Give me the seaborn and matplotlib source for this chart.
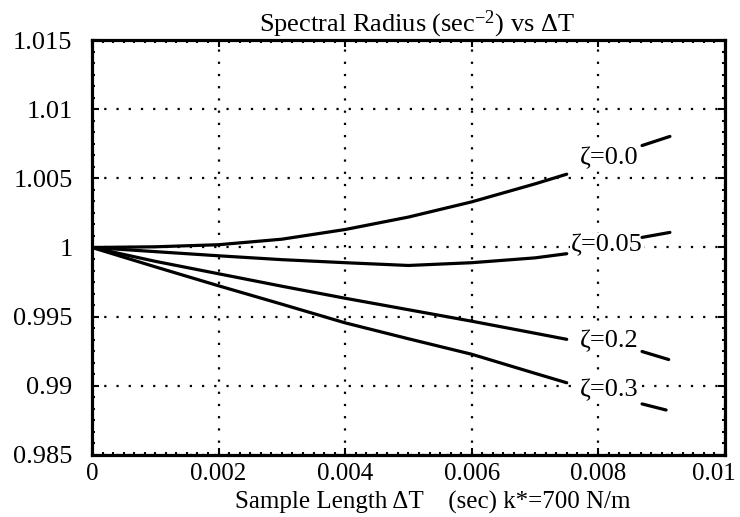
import matplotlib
matplotlib.use("Agg")
import matplotlib.pyplot as plt
import matplotlib.transforms as mtransforms
import numpy as np
import pandas as pd
import seaborn as sns
from matplotlib.ticker import AutoMinorLocator

# ---- data ----
dt = [0.0, 0.001, 0.002, 0.003, 0.004, 0.005, 0.006, 0.007, 0.0075]
rho_z000 = [1.0, 1.00005, 1.0002, 1.0006, 1.0013, 1.0022, 1.0033, 1.0046, 1.0053]
rho_z005 = [1.0, 0.9997, 0.9994, 0.99912, 0.9989, 0.9987, 0.9989, 0.99925, 0.99955]
rho_z020 = [1.0, 0.9990, 0.9981, 0.9972, 0.99633, 0.9955, 0.99467, 0.9938, 0.99336]
rho_z030 = [1.0, 0.9986, 0.99723, 0.9959, 0.99455, 0.9934, 0.99228, 0.9909, 0.99022]
zeta_names = ["ζ=0.0", "ζ=0.05", "ζ=0.2", "ζ=0.3"]

x_ticks = [0, 0.002, 0.004, 0.006, 0.008, 0.01]
x_tick_labels = ["0", "0.002", "0.004", "0.006", "0.008", "0.01"]
y_ticks = [0.985, 0.99, 0.995, 1.0, 1.005, 1.01, 1.015]
y_tick_labels = ["0.985", "0.99", "0.995", "1", "1.005", "1.01", "1.015"]

# curve labels and their short leader strokes (data coordinates)
label_x = [0.0077, 0.00757, 0.0077, 0.0077]
label_y = [1.0065, 1.00015, 0.99321, 0.98971]
lead_x0 = [0.00869, 0.00869, 0.00869, 0.00869]
lead_x1 = [0.00913, 0.00913, 0.00911, 0.00907]
lead_y0 = [1.00737, 1.00073, 0.99248, 0.98869]
lead_y1 = [1.00803, 1.00109, 0.99190, 0.98825]

series = [rho_z000, rho_z005, rho_z020, rho_z030]
df = pd.DataFrame({
    "dt": dt * len(series),
    "rho": sum(series, []),
    "zeta": sum([[z] * len(dt) for z in zeta_names], []),
})

sns.set_theme(style="ticks")
plt.rcParams["font.family"] = ["Liberation Serif", "DejaVu Serif"]
plt.rcParams["mathtext.fontset"] = "custom"
plt.rcParams["mathtext.rm"] = "Liberation Serif"
plt.rcParams["mathtext.it"] = "Liberation Serif:italic"
plt.rcParams["mathtext.bf"] = "Liberation Serif:bold"
plt.rcParams["text.color"] = "black"
plt.rcParams["axes.labelcolor"] = "black"
plt.rcParams["xtick.color"] = "black"
plt.rcParams["ytick.color"] = "black"
plt.rcParams["axes.titlecolor"] = "black"

FS = 19
FS_X = 18

fig = plt.figure(figsize=(7.4, 5.17), dpi=100)
ax = fig.add_axes([0.1243, 0.12, 0.8554, 0.8026])

sns.lineplot(data=df, x="dt", y="rho", hue="zeta", palette=["black"] * 4,
             estimator=None, linewidth=2.3, legend=False, ax=ax, zorder=3)

ax.set_xlim(0, 0.01)
ax.set_ylim(0.985, 1.015)
ax.set_xticks(x_ticks)
ax.set_xticklabels(x_tick_labels, fontsize=FS_X, color="black")
ax.set_yticks(y_ticks)
ax.set_yticklabels(y_tick_labels, fontsize=FS, color="black")
ax.xaxis.set_minor_locator(AutoMinorLocator(12))
ax.yaxis.set_minor_locator(AutoMinorLocator(6))
ax.tick_params(which="both", direction="in", top=True, right=True,
               colors="black", labelcolor="black", width=1.5)
ax.tick_params(which="major", length=5)
ax.tick_params(which="minor", length=2.5)
ax.tick_params(axis="y", which="major", pad=14)
ax.tick_params(axis="x", which="major", pad=6)

# keep the last x tick label inside the picture
last = ax.get_xticklabels()[-1]
last.set_transform(last.get_transform() +
                   mtransforms.ScaledTranslation(-8 / 72, 0, fig.dpi_scale_trans))

ax.grid(True, which="major", color="black", linestyle=(0, (1, 4.5)),
        linewidth=1.6)
for s in ax.spines.values():
    s.set_linewidth(2.3)
    s.set_color("black")

ax.set_xlabel("Sample Length ΔT    (sec) k*=700 N/m", fontsize=FS_X, color="black")
ax.xaxis.set_label_coords(0.539, -0.087)
ax.set_ylabel("")
ax.set_title("Spectral Radius (sec$^{-2}$) vs ΔT", fontsize=FS, pad=5, x=0.514,
             color="black")

for i, name in enumerate(zeta_names):
    ax.text(label_x[i], label_y[i], name, fontsize=FS, ha="left", va="center",
            zorder=4, color="black",
            bbox=dict(facecolor="white", edgecolor="none", pad=0.5))
    ax.plot([lead_x0[i], lead_x1[i]], [lead_y0[i], lead_y1[i]],
            color="black", linewidth=2.3, solid_capstyle="round", zorder=4)

fig.savefig("out.png", dpi=100)
